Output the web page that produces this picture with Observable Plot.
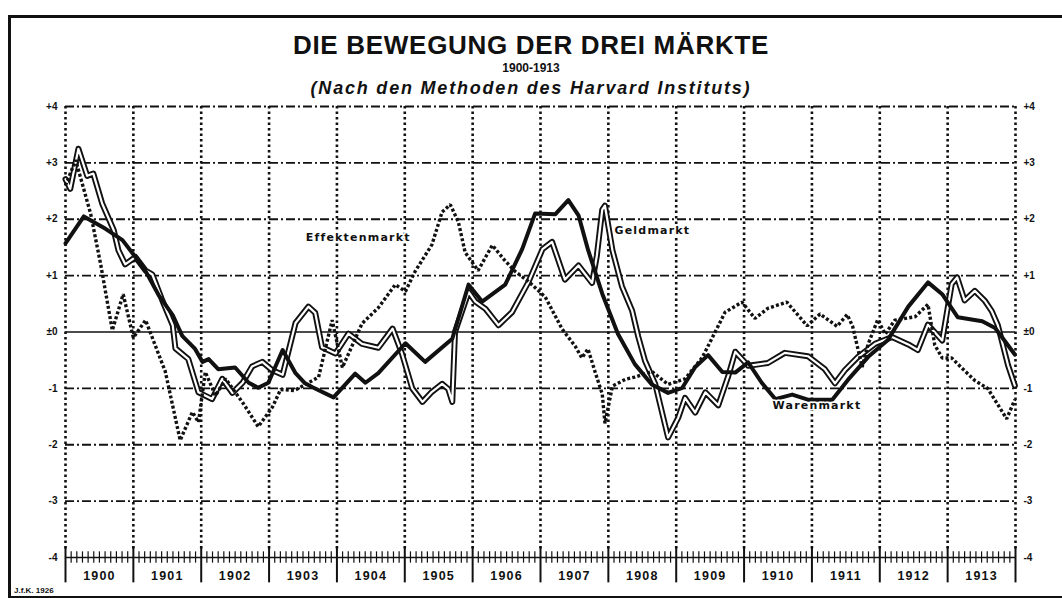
<!DOCTYPE html>
<html><head><meta charset="utf-8">
<script src="https://cdn.jsdelivr.net/npm/d3@7"></script>
<script src="https://cdn.jsdelivr.net/npm/@observablehq/plot@0.6"></script>
<style>
html,body{margin:0;padding:0;background:#fff;}
#wrap{position:relative;width:1062px;height:598px;overflow:hidden;background:#fff;font-family:"Liberation Sans",Arial,sans-serif;color:#111;}
#frame{position:absolute;left:8px;top:15px;width:1080px;height:578px;border-left:3px solid #111;border-top:3px solid #111;border-bottom:2px solid #111;}
.t{position:absolute;left:0;width:1062px;text-align:center;white-space:nowrap;}
#title{top:32px;font-size:26px;line-height:26px;font-weight:bold;letter-spacing:0.7px;}
#years{top:62px;font-size:12px;line-height:12px;font-weight:bold;}
#sub{top:79px;font-size:18px;line-height:18px;font-weight:bold;font-style:italic;letter-spacing:1.8px;}
#credit{position:absolute;left:14px;top:587px;font-size:8px;line-height:8px;font-weight:bold;}
#chart{position:absolute;left:0;top:0;}
</style>
</head><body>
<div id="wrap">
  <div id="chart"></div>
  <div id="frame"></div>
  <div class="t" id="title">DIE BEWEGUNG DER DREI MÄRKTE</div>
  <div class="t" id="years">1900-1913</div>
  <div class="t" id="sub">(Nach den Methoden des Harvard Instituts)</div>
  <div id="credit">J.f.K. 1926</div>
</div>
<script>
// Year tick labels and y-axis levels
const years = [1900,1901,1902,1903,1904,1905,1906,1907,1908,1909,1910,1911,1912,1913];
const levels = [4,3,2,1,0,-1,-2,-3,-4];
const levelLabels = ["+4","+3","+2","+1","±0","-1","-2","-3","-4"];

// Series: [year (decimal), value]
const warenmarkt = [
[1900.00,1.57],[1900.27,2.05],[1900.59,1.83],[1900.84,1.63],[1901.03,1.33],[1901.18,1.08],
[1901.37,0.66],[1901.58,0.30],[1901.72,-0.07],[1901.91,-0.30],[1902.02,-0.53],[1902.11,-0.48],
[1902.25,-0.66],[1902.50,-0.63],[1902.70,-0.90],[1902.84,-0.99],[1902.99,-0.90],[1903.20,-0.32],
[1903.39,-0.73],[1903.53,-0.91],[1903.64,-0.98],[1903.95,-1.16],[1904.27,-0.74],[1904.42,-0.90],
[1904.61,-0.73],[1905.01,-0.20],[1905.30,-0.53],[1905.70,-0.12],[1905.94,0.84],[1906.14,0.54],
[1906.48,0.84],[1906.73,1.47],[1906.92,2.10],[1907.22,2.09],[1907.41,2.34],[1907.56,2.07],
[1907.70,1.46],[1907.91,0.68],[1908.14,-0.03],[1908.39,-0.57],[1908.64,-0.93],[1908.88,-1.08],
[1909.09,-0.99],[1909.28,-0.62],[1909.47,-0.41],[1909.68,-0.71],[1909.87,-0.72],[1910.06,-0.54],
[1910.26,-0.90],[1910.46,-1.19],[1910.71,-1.11],[1910.94,-1.20],[1911.30,-1.20],[1911.53,-0.85],
[1911.83,-0.44],[1912.12,-0.14],[1912.42,0.45],[1912.71,0.88],[1912.92,0.67],[1913.15,0.26],
[1913.51,0.19],[1913.70,0.07],[1913.99,-0.40]
];
const effektenmarkt = [
[1900.00,2.60],[1900.15,3.05],[1900.37,2.10],[1900.52,1.19],[1900.69,0.03],[1900.85,0.67],
[1901.00,-0.10],[1901.18,0.21],[1901.47,-0.70],[1901.69,-1.92],[1901.87,-1.42],[1901.96,-1.60],
[1902.06,-0.71],[1902.21,-1.13],[1902.36,-0.83],[1902.61,-1.25],[1902.84,-1.68],[1903.05,-1.33],
[1903.17,-1.02],[1903.37,-1.04],[1903.73,-0.80],[1903.93,0.21],[1904.08,-0.63],[1904.37,0.15],
[1904.61,0.43],[1904.86,0.84],[1905.01,0.72],[1905.15,1.07],[1905.40,1.55],[1905.55,2.13],
[1905.67,2.26],[1905.79,1.95],[1905.89,1.41],[1906.08,1.09],[1906.29,1.54],[1906.48,1.26],
[1906.63,1.07],[1906.82,0.90],[1907.07,0.62],[1907.32,0.05],[1907.51,-0.25],[1907.61,-0.46],
[1907.70,-0.30],[1907.81,-0.73],[1907.91,-1.10],[1907.95,-1.62],[1908.06,-0.96],[1908.25,-0.84],
[1908.39,-0.80],[1908.64,-0.70],[1908.88,-0.93],[1909.13,-0.83],[1909.38,-0.46],[1909.57,-0.01],
[1909.72,0.35],[1909.97,0.53],[1910.16,0.24],[1910.35,0.42],[1910.63,0.53],[1910.93,0.11],
[1911.12,0.32],[1911.37,0.10],[1911.52,0.31],[1911.60,0.10],[1911.74,-0.62],[1911.83,-0.21],
[1911.97,0.22],[1912.08,-0.04],[1912.22,0.21],[1912.52,0.27],[1912.71,0.49],[1912.81,-0.23],
[1912.92,-0.46],[1913.06,-0.46],[1913.21,-0.64],[1913.40,-0.86],[1913.59,-1.00],[1913.87,-1.54],
[1913.99,-1.20]
];
const geldmarkt = [
[1900.00,2.71],[1900.07,2.54],[1900.19,3.25],[1900.32,2.77],[1900.41,2.81],[1900.54,2.28],
[1900.71,1.81],[1900.78,1.45],[1900.88,1.20],[1901.03,1.33],[1901.18,1.09],[1901.28,1.02],
[1901.43,0.55],[1901.58,0.12],[1901.62,-0.29],[1901.81,-0.48],[1901.96,-1.07],[1902.16,-1.19],
[1902.31,-0.83],[1902.46,-1.08],[1902.61,-0.90],[1902.75,-0.61],[1902.90,-0.53],[1903.05,-0.68],
[1903.20,-0.76],[1903.39,0.16],[1903.58,0.45],[1903.68,0.34],[1903.78,-0.27],[1903.98,-0.38],
[1904.17,-0.03],[1904.37,-0.21],[1904.61,-0.28],[1904.82,0.06],[1904.96,-0.39],[1905.11,-1.00],
[1905.26,-1.24],[1905.40,-1.06],[1905.55,-0.92],[1905.64,-1.01],[1905.70,-1.24],[1905.74,0.00],
[1905.94,0.71],[1906.04,0.54],[1906.19,0.41],[1906.38,0.12],[1906.58,0.35],[1906.82,0.88],
[1907.03,1.47],[1907.17,1.60],[1907.36,0.93],[1907.56,1.18],[1907.76,0.87],[1907.83,1.35],
[1907.91,2.17],[1907.95,2.24],[1908.06,1.45],[1908.20,0.81],[1908.35,0.38],[1908.44,-0.08],
[1908.54,-0.51],[1908.69,-0.92],[1908.88,-1.87],[1909.03,-1.52],[1909.13,-1.17],[1909.28,-1.43],
[1909.43,-1.07],[1909.62,-1.30],[1909.77,-0.77],[1909.87,-0.35],[1910.06,-0.60],[1910.35,-0.55],
[1910.60,-0.37],[1910.94,-0.43],[1911.19,-0.66],[1911.34,-0.91],[1911.49,-0.67],[1911.68,-0.44],
[1911.93,-0.21],[1912.18,-0.09],[1912.42,-0.22],[1912.56,-0.32],[1912.71,0.13],[1912.92,-0.15],
[1913.06,0.85],[1913.14,0.97],[1913.25,0.56],[1913.40,0.73],[1913.55,0.55],[1913.65,0.37],
[1913.74,0.12],[1913.89,-0.59],[1913.99,-0.95]
];
// Series name labels: [year, value, text]
const seriesLabels = [
[1903.54,1.68,"Effektenmarkt"],
[1908.09,1.80,"Geldmarkt"],
[1910.42,-1.30,"Warenmarkt"]
];

const yearEdges = years.concat([years[years.length-1]+1]);
const months = d3.range(yearEdges.length*12 - 11).map(i => years[0] + i/12).filter(m => !yearEdges.includes(m));
const dashLevels = levels.filter(v => v !== 0 && v !== -4);
const ink = "#111";
const F = "Liberation Sans, Arial, sans-serif";

const chart = Plot.plot({
  width: 1062,
  height: 598,
  marginLeft: 65,
  marginRight: 47,
  marginTop: 106,
  marginBottom: 41,
  x: {domain: [1900, 1914], axis: null},
  y: {domain: [-4, 4], axis: null},
  style: {background: "transparent", fontFamily: F},
  marks: [
    Plot.ruleY(dashLevels, {x1: 1900, x2: 1914, stroke: ink, strokeWidth: 1.8, strokeDasharray: "9,3,2,3"}),
    Plot.ruleY([0, -4], {x1: 1900, x2: 1914, stroke: ink, strokeWidth: 1.7}),
    Plot.ruleX(yearEdges, {y1: 4, y2: -3.85, stroke: ink, strokeWidth: 2.6, strokeDasharray: "2.5,3"}),
    Plot.ruleX(yearEdges, {y1: -3.82, y2: -4.45, stroke: ink, strokeWidth: 2}),
    Plot.ruleX(months, {y1: -3.9, y2: -4.1, stroke: ink, strokeWidth: 1.2}),
    Plot.text(years, {x: d => d + 0.5, y: -4.33, text: d => String(d), fontSize: 12.5, fontWeight: "bold", fill: ink}),
    Plot.text(levels, {x: 1900, y: d => d, text: (d, i) => levelLabels[i], textAnchor: "end", dx: -8, fontSize: 10, fontWeight: "bold", fill: ink}),
    Plot.text(levels, {x: 1914, y: d => d, text: (d, i) => levelLabels[i], textAnchor: "start", dx: 8, fontSize: 10, fontWeight: "bold", fill: ink}),
    Plot.line(geldmarkt, {x: d => d[0], y: d => d[1], stroke: ink, strokeWidth: 6, strokeLinejoin: "round"}),
    Plot.line(geldmarkt, {x: d => d[0], y: d => d[1], stroke: "#fff", strokeWidth: 2.2, strokeLinejoin: "round"}),
    Plot.line(effektenmarkt, {x: d => d[0], y: d => d[1], stroke: ink, strokeWidth: 3.4, strokeDasharray: "3,2.2", strokeLinecap: "butt", strokeLinejoin: "miter"}),
    Plot.line(warenmarkt, {x: d => d[0], y: d => d[1], stroke: ink, strokeWidth: 4, strokeLinejoin: "round"}),
    Plot.text(seriesLabels, {x: d => d[0], y: d => d[1], text: d => d[2], textAnchor: "start", fontSize: 11, fontWeight: "bold", fontFamily: "DejaVu Sans, sans-serif", fill: ink, stroke: "#fff", strokeWidth: 3, paintOrder: "stroke"})
  ]
});
document.getElementById("chart").appendChild(chart);
// letter-spacing tweaks for the lettering
const nameSet = new Set(seriesLabels.map(d => d[2]));
const yearSet = new Set(years.map(String));
d3.select(chart).selectAll("text").each(function() {
  const s = this.textContent;
  if (nameSet.has(s)) this.style.letterSpacing = "1.2px";
  else if (yearSet.has(s)) this.style.letterSpacing = "1.2px";
});
</script>
</body></html>
